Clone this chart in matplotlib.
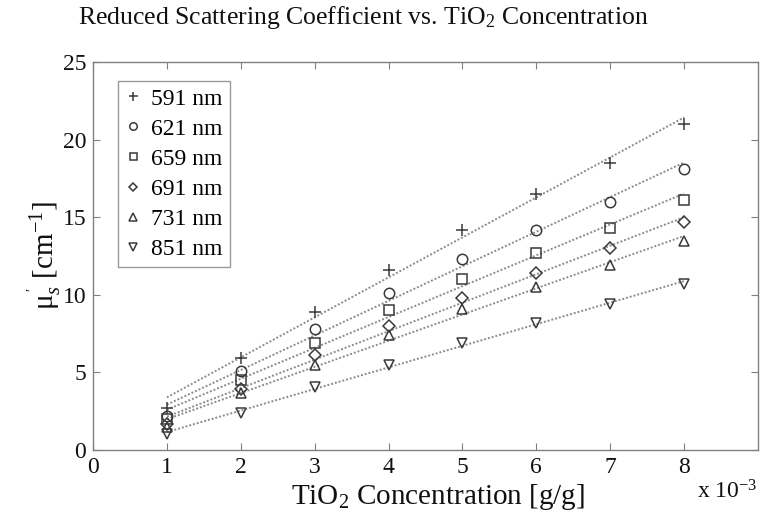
import numpy as np
import matplotlib
matplotlib.use('Agg')
import matplotlib.pyplot as plt

###Data
conc = [1, 2, 3, 4, 5, 6, 7, 8]  # TiO2 concentration [x 10^-3 g/g]
labels = ['591 nm', '621 nm', '659 nm', '691 nm', '731 nm', '851 nm']
mus_591 = [2.7, 5.9, 8.9, 11.6, 14.2, 16.5, 18.5, 21.0]
mus_621 = [2.2, 5.1, 7.8, 10.1, 12.3, 14.2, 16.0, 18.1]
mus_659 = [2.0, 4.5, 6.9, 9.0, 11.0, 12.7, 14.3, 16.1]
mus_691 = [1.7, 3.9, 6.1, 8.0, 9.8, 11.4, 13.0, 14.7]
mus_731 = [1.5, 3.7, 5.5, 7.4, 9.1, 10.5, 11.9, 13.5]
mus_851 = [1.0, 2.4, 4.05, 5.5, 6.9, 8.2, 9.4, 10.7]
xticks = [0, 1, 2, 3, 4, 5, 6, 7, 8]
yticks = [0, 5, 10, 15, 20, 25]

series = [mus_591, mus_621, mus_659, mus_691, mus_731, mus_851]
markers = ['+', 'o', 's', 'D', '^', 'v']
msizes = [9, 7.5, 7, 6, 7.5, 7.5]

#Fonts
plt.rcParams['font.family'] = ['Liberation Serif', 'DejaVu Serif']
plt.rcParams['mathtext.fontset'] = 'custom'
plt.rcParams['mathtext.rm'] = 'Liberation Serif'
plt.rcParams['mathtext.it'] = 'Liberation Serif:italic'

#Figure Settings
fig = plt.figure(figsize=(7.61, 5.26), dpi=100)
ax = fig.add_axes([0.1222, 0.1445, 0.8738, 0.7375])

mk_col = '#3a3a3a'
x = np.array(conc, dtype=float)
for y, m, ms, lab in zip(series, markers, msizes, labels):
    y = np.array(y)
    #Linear fit of each wavelength
    p = np.polyfit(x, y, 1)
    ax.plot(x, np.polyval(p, x), linestyle=(0, (1, 1)), color='#8c8c8c', linewidth=1.4, zorder=1)
    ax.plot(x, y, linestyle='none', marker=m, markersize=ms, markerfacecolor='none',
            markeredgecolor=mk_col, markeredgewidth=1.1, label=lab, zorder=2)

#Axis Limits & Ticks
ax.set_xlim(0, 9)
ax.set_ylim(0, 25)
ax.set_xticks(xticks)
ax.set_yticks(yticks)
ax.tick_params(direction='in', length=5, width=0.8, color='#808080', top=True, right=True,
               labelsize=17, pad=5, labelcolor='#111111')
for s in ax.spines.values():
    s.set_color('#808080')
    s.set_linewidth(1.0)

#Legend
leg = ax.legend(loc='upper left', bbox_to_anchor=(0.0376, 0.951), borderaxespad=0,
                fontsize=17, frameon=True, fancybox=False, handlelength=0.7, handletextpad=0.4,
                labelspacing=0.36, borderpad=0.3, markerscale=0.72)
leg.get_frame().set_edgecolor('#808080')
leg.get_frame().set_linewidth(1.0)

#Titles
fig.text(0.478, 0.966, r'Reduced Scattering Coefficient vs. TiO$_2$ Concentration',
         ha='center', va='center', fontsize=18.5, color='#111111')
fig.text(0.576, 0.055, r'TiO$_2$ Concentration [g/g]', ha='center', va='center',
         fontsize=21, color='#111111')
fig.text(0.059, 0.515, r"$\mathrm{\mu}_s^{\,'}$ [cm$^{-1}$]", ha='center', va='center',
         rotation=90, fontsize=21, color='#111111')
fig.text(0.955, 0.065, r'x 10$^{-3}$', ha='center', va='center', fontsize=17, color='#111111')

plt.savefig('out.png', dpi=100)
